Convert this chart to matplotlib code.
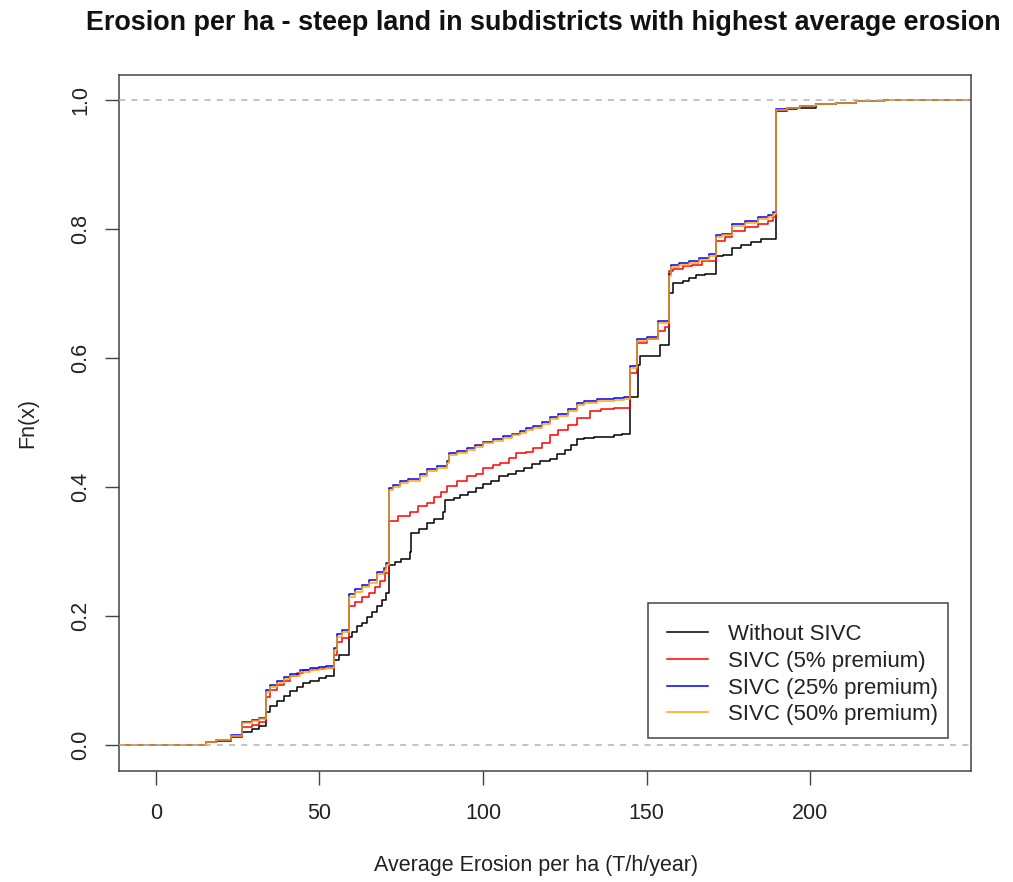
import matplotlib
matplotlib.use("Agg")
import matplotlib.pyplot as plt
from matplotlib.lines import Line2D
from matplotlib.patches import Rectangle

plt.rcParams['font.family'] = ['Liberation Sans', 'DejaVu Sans']

# ---------------- data (ECDF knots) ----------------
series_names = ["Without SIVC", "SIVC (5% premium)", "SIVC (25% premium)", "SIVC (50% premium)"]
series_colors = ["black", "red", "blue", "orange"]

x_none = [15.2, 18.5, 22.9, 26.4, 29.5, 31.5, 33.5, 35, 37, 39, 41, 43, 45, 47, 50, 52,
          54.5, 56, 58.9, 60, 61.5, 63, 64.5, 66, 67.5, 69, 70.3, 71.1, 73, 75, 77.7, 78,
          80.5, 82.8, 85, 87.9, 88.5, 91, 93, 95.5, 98, 100, 102.5, 105, 107.5, 110, 112.5,
          115, 117.5, 120.4, 122.5, 125, 127, 128.6, 131, 134, 137, 140, 142.5, 144.8,
          147.4, 148, 154, 157, 158, 161, 163, 165, 168, 171.2, 173.5, 176, 179, 182, 185,
          189.5, 193, 196, 201.7, 208, 213.9, 222.6]
y_none = [0.005, 0.007, 0.013, 0.021, 0.025, 0.030, 0.052, 0.060, 0.068, 0.076, 0.084, 0.090,
          0.097, 0.100, 0.104, 0.107, 0.132, 0.140, 0.168, 0.175, 0.184, 0.190, 0.198, 0.206,
          0.215, 0.225, 0.236, 0.280, 0.284, 0.288, 0.300, 0.329, 0.335, 0.345, 0.350, 0.362,
          0.380, 0.383, 0.388, 0.392, 0.398, 0.405, 0.410, 0.417, 0.420, 0.425, 0.430, 0.436,
          0.440, 0.444, 0.452, 0.458, 0.466, 0.474, 0.476, 0.477, 0.478, 0.480, 0.482, 0.539,
          0.590, 0.603, 0.621, 0.701, 0.717, 0.720, 0.724, 0.728, 0.731, 0.758, 0.760, 0.770,
          0.775, 0.780, 0.785, 0.983, 0.986, 0.988, 0.994, 0.996, 0.998, 1.000]

x_p5 = [15.2, 18.5, 22.9, 26.4, 29.5, 31.5, 33.5, 35, 37, 39, 41, 43, 45, 48, 51, 54.5, 55.5,
        57, 59, 61, 63, 65, 67, 68.6, 70, 71.1, 74, 77.7, 80, 82.8, 85, 87, 88.9, 92, 95, 98,
        100, 103, 105.2, 108, 110, 113, 115.3, 118, 120.4, 123, 126, 128.6, 132.6, 136, 140,
        144.8, 147.2, 150, 153.5, 155.5, 157, 158, 161, 164, 167, 171.2, 174, 176, 180, 184,
        187, 188.7, 189.5, 193, 197, 201.7, 208, 213.9, 222.6]
y_p5 = [0.005, 0.007, 0.013, 0.028, 0.032, 0.036, 0.075, 0.085, 0.093, 0.100, 0.107, 0.112,
        0.116, 0.118, 0.120, 0.140, 0.160, 0.166, 0.215, 0.222, 0.230, 0.236, 0.245, 0.254,
        0.267, 0.347, 0.355, 0.362, 0.370, 0.375, 0.385, 0.392, 0.401, 0.410, 0.417, 0.420,
        0.430, 0.435, 0.437, 0.445, 0.453, 0.455, 0.460, 0.468, 0.481, 0.489, 0.497, 0.507,
        0.518, 0.521, 0.523, 0.577, 0.623, 0.630, 0.642, 0.648, 0.735, 0.738, 0.742, 0.745,
        0.750, 0.782, 0.787, 0.797, 0.803, 0.808, 0.813, 0.818, 0.985, 0.988, 0.990, 0.994,
        0.996, 0.998, 1.000]

x_p25 = [15.2, 18.5, 22.9, 26.4, 29.5, 31.5, 33.5, 35, 37, 39, 41, 44, 47, 50, 52, 54.5, 55.5,
         57, 59, 61, 63, 65, 67.6, 69.6, 70.3, 71.1, 72.5, 74.7, 77, 80.8, 83, 86, 88.9, 89.5,
         92, 95, 97.5, 100, 103, 106, 109, 111.3, 113, 115.3, 118, 120.4, 123, 126, 128.6, 131,
         135, 140, 143, 144.8, 147, 150, 153.5, 157, 157.5, 160, 163, 166, 169, 171.2, 173, 176,
         180, 184, 187, 188.7, 189.5, 193, 197, 201.7, 208, 213.9, 222.6]
y_p25 = [0.005, 0.008, 0.016, 0.036, 0.039, 0.042, 0.086, 0.093, 0.100, 0.106, 0.111, 0.116,
         0.119, 0.121, 0.123, 0.150, 0.172, 0.178, 0.234, 0.242, 0.249, 0.256, 0.268, 0.274,
         0.283, 0.399, 0.403, 0.410, 0.413, 0.420, 0.428, 0.433, 0.440, 0.453, 0.456, 0.461,
         0.465, 0.470, 0.475, 0.479, 0.483, 0.487, 0.491, 0.495, 0.501, 0.508, 0.513, 0.521,
         0.531, 0.533, 0.536, 0.538, 0.540, 0.588, 0.629, 0.633, 0.658, 0.730, 0.744, 0.748,
         0.751, 0.755, 0.761, 0.790, 0.793, 0.808, 0.813, 0.818, 0.821, 0.826, 0.986, 0.988,
         0.990, 0.994, 0.996, 0.998, 1.000]

x_p50 = [15.2, 18.5, 22.9, 26.4, 29.5, 31.5, 33.5, 35, 37, 39, 41, 44, 47, 50, 52, 54.5, 55.5,
         57, 59, 61, 63, 65, 67.6, 69.6, 70.3, 71.1, 72.5, 74.7, 77, 80.8, 83, 86, 88.9, 89.5,
         92, 95, 97.5, 100, 103, 106, 109, 111.3, 113, 115.3, 118, 120.4, 123, 126, 128.6, 131,
         135, 140, 143, 144.8, 147, 150, 153.5, 157, 157.5, 160, 163, 166, 169, 171.2, 173, 176,
         180, 184, 187, 188.7, 189.5, 193, 197, 201.7, 208, 213.9, 222.6]
y_p50 = [0.005, 0.008, 0.015, 0.034, 0.037, 0.040, 0.083, 0.090, 0.097, 0.103, 0.108, 0.113,
         0.116, 0.118, 0.120, 0.147, 0.168, 0.175, 0.230, 0.238, 0.245, 0.252, 0.265, 0.270,
         0.280, 0.396, 0.400, 0.407, 0.410, 0.417, 0.425, 0.430, 0.437, 0.450, 0.453, 0.458,
         0.462, 0.468, 0.472, 0.476, 0.480, 0.484, 0.488, 0.492, 0.498, 0.505, 0.510, 0.518,
         0.528, 0.530, 0.533, 0.535, 0.537, 0.585, 0.626, 0.630, 0.655, 0.727, 0.741, 0.745,
         0.748, 0.752, 0.758, 0.787, 0.790, 0.805, 0.810, 0.815, 0.818, 0.823, 0.985, 0.988,
         0.990, 0.994, 0.996, 0.998, 1.000]

x_ticks = [0, 50, 100, 150, 200]
y_ticks = [0.0, 0.2, 0.4, 0.6, 0.8, 1.0]

title = "Erosion per ha - steep land in subdistricts with highest average erosion"
xlabel = "Average Erosion per ha (T/h/year)"
ylabel = "Fn(x)"

# ---------------- figure ----------------
W, H = 1013, 882
fig = plt.figure(figsize=(W / 100, H / 100), dpi=100)
L, R, T, B = 119, 971, 75, 771
ax = fig.add_axes([L / W, 1 - B / H, (R - L) / W, (B - T) / H])
XMIN, XMAX = -11.3, 249.2
YMIN, YMAX = -0.04, 1.0387
ax.set_xlim(XMIN, XMAX)
ax.set_ylim(YMIN, YMAX)

all_x = [x_none, x_p5, x_p25, x_p50]
all_y = [y_none, y_p5, y_p25, y_p50]
for xs, ys, col in zip(all_x, all_y, series_colors):
    px = [XMIN] + list(xs) + [XMAX]
    py = [0.0] + list(ys) + [ys[-1]]
    ax.step(px, py, where='post', color=col, lw=1.1, zorder=2)

for h in (0.0, 1.0):
    ax.axhline(h, color='#b3b3b3', lw=1.1, ls=(0, (4, 4)), zorder=3)

ax.set_xticks(x_ticks)
ax.set_xticklabels([str(t) for t in x_ticks])
ax.set_yticks(y_ticks)
ax.set_yticklabels([f"{t:.1f}" for t in y_ticks], rotation=90, va='center')
ax.tick_params(axis='both', direction='out', length=10, width=1, color='#444444',
               labelsize=15.5, labelcolor='#222222')
ax.tick_params(axis='x', pad=13)
ax.tick_params(axis='y', pad=10)
for s in ax.spines.values():
    s.set_color('#444444')
    s.set_linewidth(1.1)

fig.text(543 / W, 1 - 23 / H, title, ha='center', va='center', fontsize=19.4,
         fontweight='bold', color='#111111')
fig.text(536 / W, 1 - 865 / H, xlabel, ha='center', va='center', fontsize=15.5, color='#222222')
fig.text(28 / W, 1 - 423 / H, ylabel, ha='center', va='center', fontsize=15.5,
         rotation=90, color='#222222')

# ---------------- legend (drawn in figure pixel positions) ----------------
def fx(p):
    return p / W

def fy(p):
    return 1 - p / H

box = Rectangle((fx(648), fy(738)), fx(948) - fx(648), fy(603) - fy(738),
                transform=fig.transFigure, facecolor='white', edgecolor='#444444',
                lw=1.1, zorder=10)
fig.add_artist(box)
rows = [632, 659, 686, 712]
for name, col, r in zip(series_names, series_colors, rows):
    fig.add_artist(Line2D([fx(667), fx(708)], [fy(r), fy(r)], color=col, lw=1.1,
                          transform=fig.transFigure, zorder=11))
    fig.text(fx(728), fy(r + 8), name, ha='left', va='baseline', fontsize=16,
             color='#222222', zorder=11)

fig.savefig("out.png", dpi=100)
